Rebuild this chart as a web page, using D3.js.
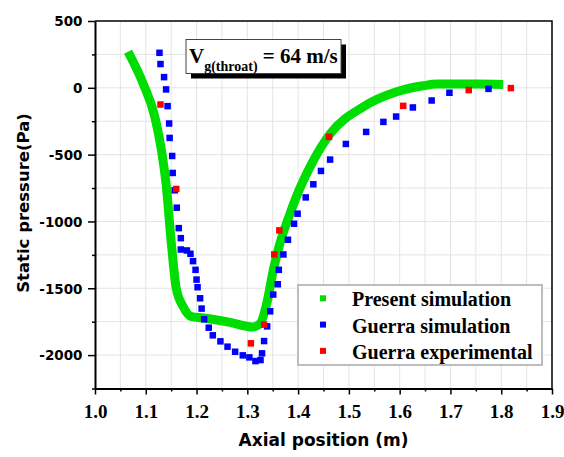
<!DOCTYPE html>
<html>
<head>
<meta charset="utf-8">
<script src="https://cdn.jsdelivr.net/npm/d3@7"></script>
<style>
  body { margin: 0; background: #fff; }
  svg { display: block; }
</style>
</head>
<body>
<div id="chart"></div>
<script>
// Present simulation (continuous line) [axial position m, pressure Pa]
const presentSim = [
  [1.065, 270], [1.095, 30], [1.118, -220], [1.131, -470], [1.140, -720],
  [1.151, -1190], [1.160, -1500], [1.174, -1640], [1.190, -1712], [1.213, -1722],
  [1.266, -1755], [1.310, -1790], [1.325, -1765], [1.338, -1617], [1.351, -1367],
  [1.364, -1167], [1.384, -942], [1.395, -830], [1.430, -545], [1.463, -345],
  [1.528, -143], [1.594, -30], [1.646, 15], [1.673, 28], [1.750, 28], [1.804, 25]
];

// Guerra simulation (blue squares)
const guerraSim = [
  [1.127, 262], [1.129, 178], [1.136, 80], [1.140, -12], [1.143, -137],
  [1.146, -267], [1.147, -375], [1.152, -510], [1.153, -637], [1.157, -767],
  [1.161, -897], [1.165, -1050], [1.169, -1125], [1.169, -1210], [1.181, -1217],
  [1.188, -1242], [1.193, -1297], [1.198, -1362], [1.200, -1435], [1.202, -1492],
  [1.207, -1575], [1.210, -1652], [1.215, -1732], [1.224, -1795], [1.232, -1852],
  [1.247, -1897], [1.261, -1937], [1.276, -1975], [1.291, -2002], [1.304, -2017],
  [1.316, -2045], [1.326, -2037], [1.329, -1987], [1.333, -1895], [1.339, -1785],
  [1.345, -1672], [1.351, -1547], [1.360, -1470], [1.362, -1362], [1.371, -1247],
  [1.380, -1137], [1.392, -1017], [1.399, -942], [1.415, -820], [1.430, -722],
  [1.445, -622], [1.463, -537], [1.494, -420], [1.534, -330], [1.568, -255],
  [1.593, -215], [1.626, -147], [1.663, -95], [1.698, -37], [1.775, -8]
];

// Guerra experimental (red squares)
const guerraExp = [
  [1.129, -125], [1.160, -757], [1.307, -1912], [1.333, -1772], [1.353, -1247],
  [1.363, -1067], [1.461, -367], [1.607, -135], [1.736, -17], [1.819, -2]
];

const xTicks = [1.0, 1.1, 1.2, 1.3, 1.4, 1.5, 1.6, 1.7, 1.8, 1.9];
const yTicks = [-2000, -1500, -1000, -500, 0, 500];

const legendItems = [
  { label: "Present simulation", color: "#00dd00" },
  { label: "Guerra simulation", color: "#0000ff" },
  { label: "Guerra experimental", color: "#ff0000" }
];

const W = 564, H = 457;
const plot = { left: 95, right: 552, top: 21, bottom: 388.5 };

const svg = d3.select("#chart").append("svg")
  .attr("width", W)
  .attr("height", H);

svg.append("rect").attr("width", W).attr("height", H).attr("fill", "#fff");

const x = d3.scaleLinear().domain([1.0, 1.9]).range([plot.left, plot.right]);
const y = d3.scaleLinear().domain([-2250, 500]).range([plot.bottom, plot.top]);

// grid (major + minor)
const xGrid = d3.range(1.05, 1.9, 0.05);
const yGrid = d3.range(-2000, 500, 250);

svg.append("g")
  .selectAll("line")
  .data(xGrid)
  .join("line")
  .attr("x1", d => x(d)).attr("x2", d => x(d))
  .attr("y1", plot.top).attr("y2", plot.bottom)
  .attr("stroke", "#e4e4e4")
  .attr("stroke-width", 1);

svg.append("g")
  .selectAll("line")
  .data(yGrid)
  .join("line")
  .attr("y1", d => y(d)).attr("y2", d => y(d))
  .attr("x1", plot.left).attr("x2", plot.right)
  .attr("stroke", "#e4e4e4")
  .attr("stroke-width", 1);

// frame top/right
svg.append("path")
  .attr("d", `M${plot.left},${plot.top}H${plot.right}V${plot.bottom}`)
  .attr("fill", "none")
  .attr("stroke", "#000")
  .attr("stroke-width", 1.5);

// =========================
// AXES
// =========================
const xAxis = svg.append("g")
  .attr("transform", `translate(0,${plot.bottom})`)
  .call(d3.axisBottom(x).tickValues(xTicks).tickSize(6).tickSizeOuter(0).tickFormat(d3.format(".1f")));

svg.append("g")
  .attr("transform", `translate(0,${plot.bottom})`)
  .call(d3.axisBottom(x).tickValues(d3.range(1.05, 1.9, 0.1)).tickSize(3).tickFormat(""))
  .call(g => g.select(".domain").remove());

const yAxis = svg.append("g")
  .attr("transform", `translate(${plot.left},0)`)
  .call(d3.axisLeft(y).tickValues(yTicks).tickSize(7).tickSizeOuter(0).tickFormat(d => String(d)));

svg.append("g")
  .attr("transform", `translate(${plot.left},0)`)
  .call(d3.axisLeft(y).tickValues(d3.range(-2250, 500, 500)).tickSize(3).tickFormat(""))
  .call(g => g.select(".domain").remove());

svg.selectAll(".domain").attr("stroke-width", 2);
svg.selectAll(".tick line").attr("stroke-width", 1.5);

xAxis.selectAll("text")
  .attr("dy", null)
  .attr("y", 29.5)
  .style("font-family", "'Liberation Serif', 'Times New Roman', serif")
  .style("font-weight", "bold")
  .style("font-size", "19px")
  .attr("fill", "#000");

yAxis.selectAll("text")
  .attr("x", -12.5)
  .attr("dy", "0.36em")
  .style("font-family", "'DejaVu Sans', sans-serif")
  .style("font-weight", "bold")
  .style("font-size", "13.5px")
  .attr("fill", "#000");

// axis titles
svg.append("text")
  .attr("x", (plot.left + plot.right) / 2)
  .attr("y", 446)
  .attr("text-anchor", "middle")
  .style("font-family", "'DejaVu Sans', sans-serif")
  .style("font-weight", "bold")
  .style("font-size", "17px")
  .text("Axial position (m)");

svg.append("text")
  .attr("transform", `translate(29,203) rotate(-90)`)
  .attr("text-anchor", "middle")
  .style("font-family", "'DejaVu Sans', sans-serif")
  .style("font-weight", "bold")
  .style("font-size", "16.5px")
  .text("Static pressure(Pa)");

// =========================
// DATA
// =========================
const line = d3.line()
  .x(d => x(d[0]))
  .y(d => y(d[1]))
  .curve(d3.curveMonotoneX);

svg.append("path")
  .datum(presentSim)
  .attr("fill", "none")
  .attr("stroke", legendItems[0].color)
  .attr("stroke-width", 9)
  .attr("stroke-linejoin", "round")
  .attr("d", line);

const sq = 6.5;
svg.append("g")
  .selectAll("rect")
  .data(guerraSim)
  .join("rect")
  .attr("x", d => x(d[0]) - sq / 2)
  .attr("y", d => y(d[1]) - sq / 2)
  .attr("width", sq).attr("height", sq)
  .attr("fill", legendItems[1].color);

svg.append("g")
  .selectAll("rect")
  .data(guerraExp)
  .join("rect")
  .attr("x", d => x(d[0]) - sq / 2)
  .attr("y", d => y(d[1]) - sq / 2)
  .attr("width", sq).attr("height", sq)
  .attr("fill", legendItems[2].color);

// =========================
// ANNOTATION BOX
// =========================
const ann = svg.append("g").attr("transform", "translate(186,39.5)");
ann.append("rect")
  .attr("x", 5).attr("y", 5)
  .attr("width", 155).attr("height", 34)
  .attr("fill", "#000");
ann.append("rect")
  .attr("width", 155).attr("height", 34)
  .attr("fill", "#fff")
  .attr("stroke", "#444")
  .attr("stroke-width", 1);
const annText = ann.append("text")
  .attr("x", 3)
  .attr("y", 23)
  .style("font-family", "'Liberation Serif', 'Times New Roman', serif")
  .style("font-weight", "bold")
  .style("font-size", "21px");
annText.append("tspan").text("V");
annText.append("tspan").attr("dy", 8).style("font-size", "14px").text("g(throat)");
annText.append("tspan").attr("dy", -8).text(" = 64 m/s");

// =========================
// LEGEND
// =========================
const legend = svg.append("g").attr("transform", "translate(298,285)");
legend.append("rect")
  .attr("width", 244).attr("height", 80)
  .attr("fill", "#fff")
  .attr("stroke", "#bdbdbd")
  .attr("stroke-width", 2);

legendItems.forEach((item, i) => {
  const row = legend.append("g").attr("transform", `translate(0,${13.3 + i * 26.3})`);
  row.append("rect")
    .attr("x", 22).attr("y", -3)
    .attr("width", 6).attr("height", 6)
    .attr("fill", item.color);
  row.append("text")
    .attr("x", 54)
    .attr("y", 8)
    .style("font-family", "'Liberation Serif', 'Times New Roman', serif")
    .style("font-weight", "bold")
    .style("font-size", "20px")
    .text(item.label);
});
</script>
</body>
</html>
